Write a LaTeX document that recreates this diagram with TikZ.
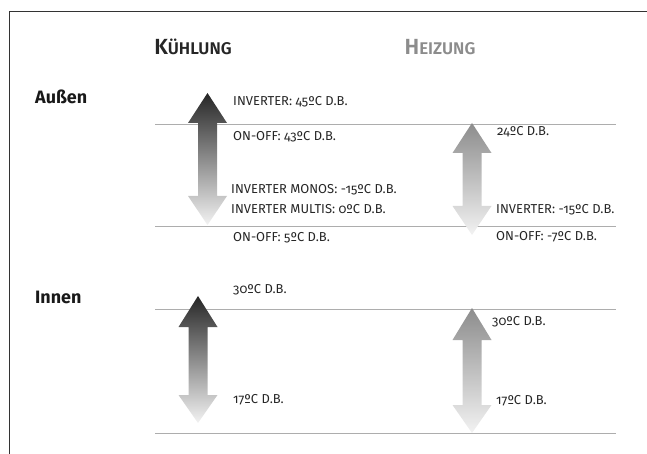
\documentclass[tikz,border=0pt]{standalone}
\usepackage{fontspec}
\setmainfont{Fira Sans}[Numbers=OldStyle]
\newfontfamily\headfont{Fira Sans}[BoldFont={Fira Sans SemiBold}]
\begin{document}
\begin{tikzpicture}[x=1bp,y=-1bp,
  lbl/.style={anchor=west,inner sep=0pt,font=\fontsize{13}{15}\selectfont,text=black!85},
  sep/.style={draw=black!32,line width=0.8bp},
  frame/.style={draw=black!80,line width=1bp},
  head/.style={inner sep=0pt,font=\headfont\bfseries},
  side/.style={anchor=west,inner sep=0pt,font=\fontsize{18}{20}\selectfont\bfseries,text=black!90}]
\useasboundingbox (0,0) rectangle (647,454);
\newcommand\myarr[6]{%
  \shade[top color=#6,bottom color=black!5]
   (#1,#2) -- (#1+19.5,#3) -- (#1+9.5,#3) -- (#1+9.5,#4) -- (#1+19.5,#4) -- (#1,#5)
   -- (#1-19.5,#4) -- (#1-9.5,#4) -- (#1-9.5,#3) -- (#1-19.5,#3) -- cycle;}
% frame
\coordinate (fbl) at (9,454);
\coordinate (ftl) at (9,12);
\coordinate (ftr) at (647,12);
\draw[frame] (fbl) -- (ftl) -- (ftr);
% headings
\node[head,text=black!85] (kuehl) at (193,47) {\fontsize{22}{24}\selectfont K\fontsize{17}{19}\selectfont ÜHLUNG};
\node[head,text=black!45] (heiz) at (440,47) {\fontsize{22}{24}\selectfont H\fontsize{17}{19}\selectfont EIZUNG};
\node[side] (aussen) at (35,97) {Außen};
\node[side] (innen) at (35,297) {Innen};
% separator lines
\coordinate (l1a) at (155,124); \coordinate (l1b) at (616,124);
\coordinate (l2a) at (155,226); \coordinate (l2b) at (616,226);
\coordinate (l3a) at (155,309); \coordinate (l3b) at (616,309);
\coordinate (l4a) at (155,433); \coordinate (l4b) at (616,433);
\draw[sep] (l1a) -- (l1b);
\draw[sep] (l2a) -- (l2b);
\draw[sep] (l3a) -- (l3b);
\draw[sep] (l4a) -- (l4b);
% arrows
\myarr{207.5}{93}{123}{196}{225}{black!85}
\myarr{472}{123}{153}{206}{235}{black!45}
\myarr{198}{296}{327}{395}{423}{black!85}
\myarr{472}{308}{340}{405}{433}{black!45}
% labels
\node[lbl] (t1) at (233,102) {INVERTER: 45ºC D.B.};
\node[lbl] (t2) at (233,137) {ON-OFF: 43ºC D.B.};
\node[lbl] (t3) at (231,190) {INVERTER MONOS: -15ºC D.B.};
\node[lbl] (t4) at (231,209) {INVERTER MULTIS: 0ºC D.B.};
\node[lbl] (t5) at (233,238) {ON-OFF: 5ºC D.B.};
\node[lbl] (t6) at (497,132) {24ºC D.B.};
\node[lbl] (t7) at (496,210) {INVERTER: -15ºC D.B.};
\node[lbl] (t8) at (496,237) {ON-OFF: -7ºC D.B.};
\node[lbl] (t9) at (233,290) {30ºC D.B.};
\node[lbl] (t10) at (233,400) {17ºC D.B.};
\node[lbl] (t11) at (492,322) {30ºC D.B.};
\node[lbl] (t12) at (496,401) {17ºC D.B.};
\end{tikzpicture}
\end{document}
